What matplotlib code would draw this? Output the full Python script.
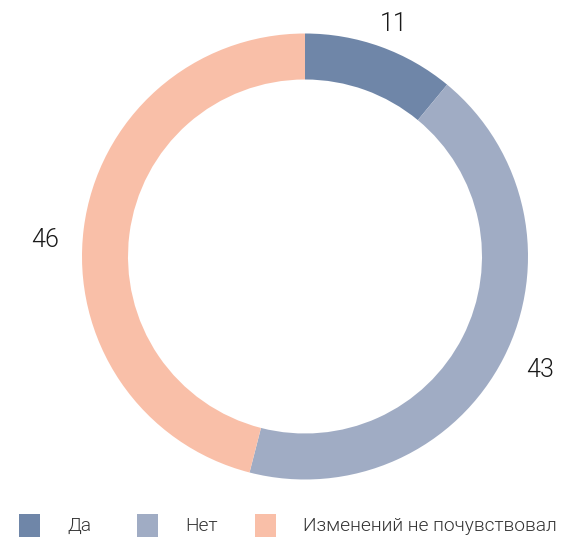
import matplotlib
matplotlib.use("Agg")
import matplotlib.pyplot as plt
from matplotlib.patches import Rectangle
import numpy as np

categories = ["Да", "Нет", "Изменений не почувствовал"]
values = [11, 43, 46]
colors = ["#6f86a8", "#a0acc4", "#f9bfa8"]
label_dist = [1.125, 1.17, 1.175]
label_offset_px = [(4, -4), (3, 5), (0, -16)]

W, H = 571, 538
fig = plt.figure(figsize=(W / 100, H / 100), dpi=100)
plt.rcParams['font.family'] = ['Roboto', 'DejaVu Sans']

cx, cy, R = 305, 256.5, 223
ax = fig.add_axes([(cx - R) / W, (H - cy - R) / H, 2 * R / W, 2 * R / H])
ax.set_xlim(-1, 1)
ax.set_ylim(-1, 1)
ax.set_aspect('equal')
ax.axis('off')

wedges, _ = ax.pie(values, colors=colors, startangle=90, counterclock=False,
                   radius=1.0, wedgeprops=dict(width=46 / 223, linewidth=0),
                   frame=False)
ax.set_xlim(-1, 1)
ax.set_ylim(-1, 1)

total = sum(values)
cum = 0
for v, d, off in zip(values, label_dist, label_offset_px):
    mid = (cum + v / 2) / total * 2 * np.pi
    cum += v
    x, y = d * np.sin(mid), d * np.cos(mid)
    ax.annotate(str(v), (x, y), xytext=(off[0] * 0.72, off[1] * 0.72),
                textcoords='offset points', ha='center', va='center',
                fontsize=18, fontweight=300, color='#1a1a1a',
                annotation_clip=False)

# legend
lax = fig.add_axes([0, 0, 1, 1], facecolor='none')
lax.set_xlim(0, W)
lax.set_ylim(H, 0)
lax.axis('off')
slots = [19, 137, 255]
for xs, c, lab in zip(slots, colors, categories):
    lax.add_patch(Rectangle((xs, 514), 21, 23, color=c, lw=0))
    lax.text(xs + 48, 526, lab, ha='left', va='center', fontsize=13.8,
             fontweight=300, color='#333333')

fig.savefig("out.png", dpi=100)
